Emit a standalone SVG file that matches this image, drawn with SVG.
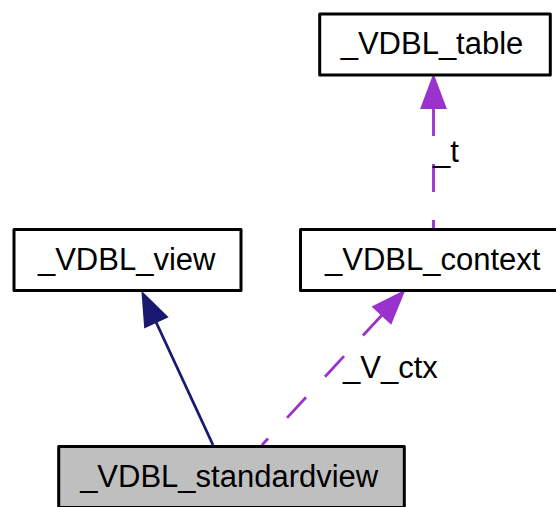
<svg xmlns="http://www.w3.org/2000/svg" width="556" height="507" viewBox="0 0 556 507">
<style>
.box{fill:#ffffff;stroke:#000000;stroke-width:3;stroke-linejoin:round}
.cur{fill:#bfbfbf}
.lbl{font-family:"Liberation Sans",Arial,Helvetica,sans-serif;font-size:31px;fill:#000000;text-anchor:middle}
.elbl{font-family:"Liberation Sans",Arial,Helvetica,sans-serif;font-size:31px;fill:#000000}
.inh{fill:none;stroke:#191970;stroke-width:2.8}
.use{fill:none;stroke:#9a32cd;stroke-width:2.8;stroke-dasharray:28,28}
</style>
<defs>
<marker id="ahBlue" markerUnits="userSpaceOnUse" markerWidth="40" markerHeight="30" refX="0" refY="12" orient="auto-start-reverse" overflow="visible">
<path d="M0,0 L32,12 L0,24 Z" fill="#191970" stroke="#191970" stroke-width="2" stroke-linejoin="miter"/>
</marker>
<marker id="ahPurple" markerUnits="userSpaceOnUse" markerWidth="40" markerHeight="30" refX="0" refY="12" orient="auto-start-reverse" overflow="visible">
<path d="M0,0 L32,12 L0,24 Z" fill="#9a32cd" stroke="#9a32cd" stroke-width="2" stroke-linejoin="miter"/>
</marker>
</defs>
<g id="connectors">
<path id="e_view" class="inh" d="M156,322 L213,445" marker-start="url(#ahBlue)"/>
<path id="e_ctx" class="use" d="M382,315 L262,445" marker-start="url(#ahPurple)"/>
<text class="elbl" x="343" y="378">_V_ctx</text>
<path id="e_table" class="use" d="M433.5,108 L433.5,229" marker-start="url(#ahPurple)"/>
<text class="elbl" x="433" y="162">_t</text>
</g>
<g id="node_table">
<rect class="box" x="319.7" y="14" width="230.6" height="61"/>
<text class="lbl" x="432" y="53.5">_VDBL_table</text>
</g>
<g id="node_view">
<rect class="box" x="14" y="229.5" width="227" height="61"/>
<text class="lbl" x="126.7" y="270">_VDBL_view</text>
</g>
<g id="node_context">
<rect class="box" x="300.5" y="229.5" width="264.5" height="61"/>
<text class="lbl" x="432.7" y="270">_VDBL_context</text>
</g>
<g id="node_standardview">
<rect class="box cur" x="58.7" y="446.4" width="345.6" height="61"/>
<text class="lbl" x="229.2" y="486.8">_VDBL_standardview</text>
</g>
</svg>
